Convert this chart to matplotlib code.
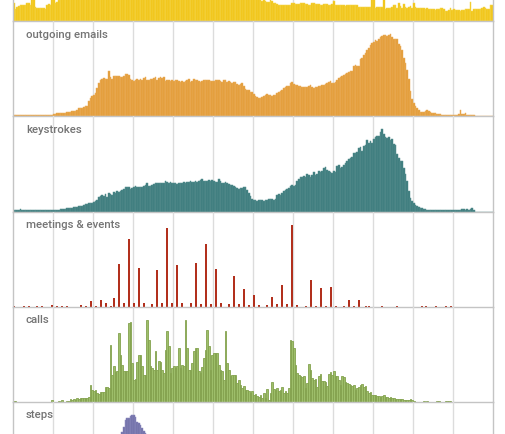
import numpy as np
import matplotlib
matplotlib.use('Agg')
import matplotlib.pyplot as plt

# ---- data: 5-minute bins over 24 h (288 bins), heights in arbitrary units ----
n_bins = 288

incoming = [
    54,38,43,46,48,48,48,48,56,56,48,75,75,44,41,41,41,41,41,38,50,51,48,75,
    75,56,58,63,80,90,100,110,120,130,140,150,160,170,180,190,200,205,210,215,
    220,222,224,225,228,230,226,224,229,231,227,225,222,226,228,224,221,219,223,220,
    218,216,219,215,213,217,214,212,210,212,208,206,209,205,203,207,204,201,199,202,
    198,196,199,195,193,196,192,190,188,191,187,185,183,186,182,180,178,181,176,174,
    177,172,170,168,171,166,164,162,165,160,158,156,152,150,147,144,140,137,134,130,
    127,124,120,117,114,110,107,104,101,98,95,92,90,88,86,84,82,80,78,76,
    74,72,70,69,68,61,63,62,58,58,75,61,54,54,51,50,50,50,48,48,
    48,48,48,54,54,51,51,51,54,54,54,51,51,49,49,54,54,52,52,52,
    49,49,51,51,51,49,49,51,61,49,48,48,48,50,50,46,48,48,48,48,
    48,48,48,44,42,42,42,42,42,42,42,80,80,41,44,44,44,44,80,36,
    41,41,41,44,48,48,41,56,46,41,51,44,41,44,46,41,56,44,41,41,
    41,41,41,36,41,38,38,38,38,33,36,38,41,41,36,31,31,34,41,33,
    36,34,34,33,31,33,33,36,36,36,58,31,36,36,36,36,38,41,44,41,
    38,38,48,48,
]

emails = [
    3,3,3,3,3,3,3,3,3,3,3,3,3,3,3,3,3,3,3,3,3,3,3,3,
    8,8,9,9,10,10,11,11,12,12,14,15,15,17,18,25,25,26,28,30,30,45,55,60,
    65,70,85,100,110,112,115,112,113,135,117,113,120,122,120,120,118,118,122,127,128,125,112,110,
    105,108,112,110,112,110,116,118,108,110,111,112,115,117,110,115,118,116,117,106,110,108,107,108,
    107,108,109,106,104,105,104,106,110,112,104,106,111,109,108,106,104,107,109,109,110,108,105,106,
    107,108,110,109,105,104,109,108,104,106,103,100,102,104,98,94,96,99,90,82,80,78,74,72,
    66,62,58,56,55,57,60,63,66,65,64,62,63,64,70,74,77,80,86,88,90,92,100,102,
    98,95,93,91,90,89,88,88,89,92,93,88,86,87,89,90,91,94,95,96,99,103,106,100,
    100,104,110,114,118,122,124,126,130,134,137,136,150,154,152,150,172,175,183,190,200,205,215,220,
    224,228,226,232,238,240,245,243,240,245,248,238,232,233,232,218,212,200,175,160,140,112,75,52,
    40,30,25,18,14,12,12,16,18,17,12,11,10,9,8,7,6,5,5,5,4,4,4,5,
    5,5,5,6,19,7,7,10,5,4,4,4,4,0,0,0,0,0,0,0,0,0,0,0,
]

keystrokes = [
    3,3,3,3,8,3,3,3,4,4,3,3,4,3,3,4,3,3,4,3,3,4,4,4,
    5,5,5,5,6,7,7,8,9,9,9,10,12,13,14,15,16,17,18,21,23,24,25,25,
    28,32,35,44,46,48,46,53,42,54,52,48,58,56,60,59,61,65,67,72,74,73,68,70,
    74,76,73,72,73,74,75,78,86,76,75,80,82,86,84,85,85,86,84,90,88,86,87,85,
    86,85,83,86,84,86,87,86,89,88,90,89,89,91,88,92,93,96,91,90,92,94,90,93,
    90,88,87,96,91,85,84,87,85,83,80,78,75,74,70,68,69,70,72,74,65,55,45,36,
    33,34,32,33,33,34,32,33,35,37,38,36,35,37,48,52,50,55,62,64,66,70,75,78,
    76,80,90,98,102,104,106,104,112,108,103,110,118,110,112,120,118,120,130,134,125,122,118,116,
    122,118,136,138,130,134,140,145,150,156,160,162,176,174,178,190,194,180,196,198,215,205,212,206,
    218,222,226,225,238,246,232,222,220,224,214,216,202,198,172,160,152,150,130,112,90,60,40,32,
    26,20,16,14,11,9,7,6,5,5,5,4,4,4,5,4,4,4,5,4,4,4,4,4,
    4,4,4,4,5,6,6,5,6,5,6,9,4,0,0,0,0,0,0,0,0,0,0,0,
]

meeting_bins = [0,6,9,14,17,23,26,29,32,40,43,46,49,52,55,58,60,63,66,69,72,75,78,
                83,86,89,92,95,98,101,106,109,112,115,118,121,124,129,132,135,138,141,
                144,147,152,155,158,161,164,167,170,175,178,181,184,187,190,193,198,201,
                204,207,211,213,221,230,245,247,253,259,262]
meeting_values = [3,3,3,3,3,6,3,3,3,6,3,18,3,21,12,3,27,129,12,204,12,117,12,
                  9,111,12,237,12,126,12,12,132,9,189,9,114,12,9,93,9,54,6,
                  36,6,6,30,9,66,9,246,6,3,81,3,57,3,60,3,3,21,
                  3,21,3,3,3,3,3,3,3,3,3]

calls = [
    3,3,0,0,0,0,0,0,0,0,0,0,0,0,0,0,0,0,0,0,0,0,0,6,
    0,0,0,3,0,6,0,0,3,3,8,6,8,6,10,8,12,11,12,12,12,14,50,35,
    33,36,27,24,28,30,29,44,44,40,171,81,106,88,93,206,141,111,93,93,93,236,239,116,
    66,68,120,140,141,106,81,80,246,186,106,100,95,151,96,123,119,96,86,156,211,168,86,100,
    106,101,106,161,101,111,106,246,161,96,96,116,151,161,161,91,86,103,131,156,216,166,96,141,
    146,146,146,111,96,91,66,211,116,96,76,81,81,79,56,66,51,41,46,36,36,31,26,31,
    21,23,16,13,21,11,26,11,38,6,26,59,39,36,41,31,36,43,26,33,26,41,186,181,
    161,111,86,81,76,73,76,41,56,113,96,71,66,69,43,76,84,61,61,59,46,83,89,81,
    91,76,78,66,51,76,73,59,56,53,51,46,51,36,41,43,51,53,43,46,33,26,29,21,
    21,19,16,18,14,16,21,13,13,11,13,10,11,8,9,8,9,7,6,6,5,5,9,5,
    3,0,0,0,0,0,3,0,3,0,0,0,0,0,3,3,0,0,0,3,3,3,3,0,
    0,0,0,0,0,0,0,0,0,0,0,0,0,0,0,0,0,0,0,0,0,0,0,0,
]

step_bins = [60,61,62,63,64,65,66,67,68,69,70,71,72,73,74,75,76,77,78,79,80,81,82,83]
step_values = [20,40,70,120,170,195,210,231,236,236,241,246,245,238,224,221,216,206,198,191,170,140,90,40]

labels = ["", "outgoing emails", "keystrokes", "meetings & events", "calls", "steps"]

# ---- layout ----
W, H = 505, 435
fig = plt.figure(figsize=(W / 100, H / 100), dpi=100)
fig.patch.set_facecolor('white')

left_px, right_px = 13, 493
panel_h = 95.1
first_bottom = 22.3
ymax = 285

styles = [
    dict(color='#F0C30F', edgecolor='#F6D650', linewidth=0.35),
    dict(color='#E29A33', edgecolor='#EBB061', linewidth=0.35),
    dict(color='#3A7A7B', edgecolor='#5A9091', linewidth=0.35),
    dict(color='#B2301D', edgecolor='#B2301D', linewidth=0.0),
    dict(color='#9DBE6A', edgecolor='#83A24E', linewidth=0.6),
    dict(color='#6F6EA7', edgecolor='#8C8BBE', linewidth=0.35),
]

x_all = np.arange(n_bins)
for i in range(6):
    bottom_px = first_bottom + i * panel_h
    ax = fig.add_axes([left_px / W, 1 - bottom_px / H,
                       (right_px - left_px) / W, panel_h / H])
    ax.set_xlim(0, n_bins)
    ax.set_ylim(0, ymax)
    ax.set_xticks([])
    ax.set_yticks([])
    for k in range(24, n_bins, 24):
        ax.axvline(k, color='#dcdcdc', lw=1.0, zorder=0)
    for s in ['left', 'right', 'bottom']:
        ax.spines[s].set_color('#c4c4c4')
        ax.spines[s].set_linewidth(1.0)
    ax.spines['top'].set_visible(False)
    ax.patch.set_alpha(0)

    st = styles[i]
    if i == 0:
        ax.bar(x_all, incoming, width=1.0, align='edge', zorder=2, **st)
    elif i == 1:
        ax.bar(x_all, emails, width=1.0, align='edge', zorder=2, **st)
    elif i == 2:
        ax.bar(x_all, keystrokes, width=1.0, align='edge', zorder=2, **st)
    elif i == 3:
        ax.bar(meeting_bins, meeting_values, width=1.2, align='edge', zorder=2, **st)
    elif i == 4:
        ax.bar(x_all, calls, width=1.0, align='edge', zorder=2, **st)
    else:
        ax.bar(step_bins, step_values, width=1.0, align='edge', zorder=2, **st)

    if labels[i]:
        ax.text(13 / (right_px - left_px), 1 - 12.5 / panel_h, labels[i],
                transform=ax.transAxes, ha='left', va='center',
                fontsize=8.2, color='#747474', fontweight='medium',
                family=['Roboto', 'DejaVu Sans'], zorder=5)

fig.savefig('out.png', dpi=100, facecolor='white')
